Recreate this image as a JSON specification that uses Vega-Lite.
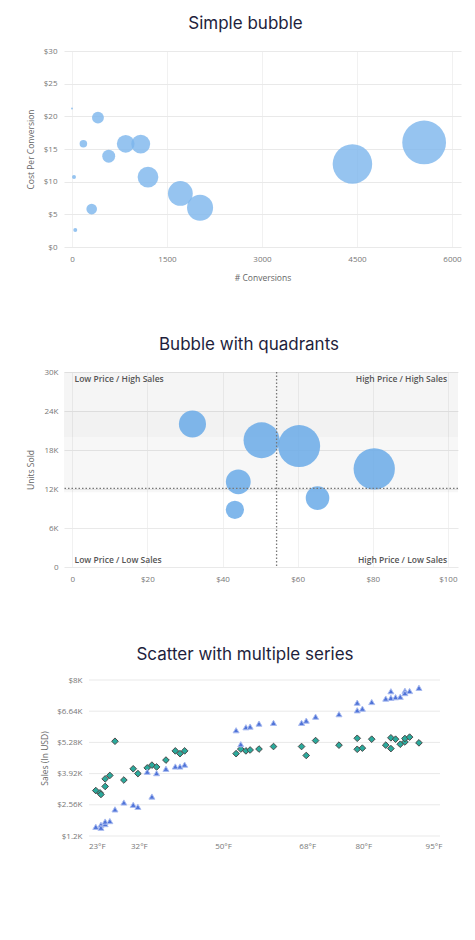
{
  "$schema": "https://vega.github.io/schema/vega-lite/v6.json",
  "background": "white",
  "padding": {"top": 15, "left": 26, "right": 5, "bottom": 5},
  "config": {
    "view": {"stroke": null},
    "font": "Open Sans",
    "axis": {"domain": false, "ticks": false, "gridColor": "#e9e9e9", "gridWidth": 1, "labelColor": "#777", "labelFontSize": 8, "titleColor": "#666", "titleFontSize": 8.5, "titleFontWeight": "normal", "labelFont": "Open Sans", "titleFont": "Open Sans", "labelOverlap": false},
    "title": {"font": "Inter", "fontSize": 17, "fontWeight": 400, "color": "#1e1e3c", "offset": 14}
  },
  "spacing": 54,
  "vconcat": [
    {
      "width": 397, "height": 196,
      "title": {"text": "Simple bubble", "dx": -17},
      "data": {"values": [
        {"conversions": 5560, "cpc": 16.0, "z": 610},
        {"conversions": 4428, "cpc": 12.7, "z": 497},
        {"conversions": 2022, "cpc": 6.0, "z": 216},
        {"conversions": 1711, "cpc": 8.2, "z": 196},
        {"conversions": 1200, "cpc": 10.7, "z": 137},
        {"conversions": 1085, "cpc": 15.75, "z": 114},
        {"conversions": 848, "cpc": 15.8, "z": 100},
        {"conversions": 580, "cpc": 13.9, "z": 53},
        {"conversions": 410, "cpc": 19.8, "z": 45},
        {"conversions": 311, "cpc": 5.8, "z": 36},
        {"conversions": 180, "cpc": 15.8, "z": 18},
        {"conversions": 32, "cpc": 10.7, "z": 5},
        {"conversions": 52, "cpc": 2.6, "z": 5},
        {"conversions": 0, "cpc": 21.2, "z": 1}
      ]},
      "mark": {"type": "circle", "color": "#7cb5ec", "opacity": 0.8},
      "encoding": {
        "x": {"field": "conversions", "type": "quantitative", "title": "# Conversions",
              "scale": {"domain": [-126, 6142], "nice": false, "zero": false},
              "axis": {"values": [0, 1500, 3000, 4500, 6000], "format": "d", "gridColor": "#f1f1f1", "labelPadding": 8, "titlePadding": 10}},
        "y": {"field": "cpc", "type": "quantitative", "title": "Cost Per Conversion",
              "scale": {"domain": [0, 30], "nice": false},
              "axis": {"values": [0, 5, 10, 15, 20, 25, 30], "labelExpr": "'$' + datum.value", "labelPadding": 7, "titlePadding": 8}},
        "size": {"field": "z", "type": "quantitative", "scale": {"domain": [0, 620], "range": [0, 1948]}, "legend": null}
      }
    },
    {
      "spacing": 63,
      "vconcat": [
        {
          "width": 394, "height": 195,
          "title": {"text": "Bubble with quadrants", "dx": -12},
          "layer": [
            {
              "data": {"values": [
                {"units": 11500, "units_hi": 20000, "band": "light"},
                {"units": 20000, "units_hi": 24000, "band": "dark"},
                {"units": 24000, "units_hi": 30000, "band": "mid"}
              ]},
              "mark": {"type": "rect", "color": "#000"},
              "encoding": {
                "y": {"field": "units", "type": "quantitative", "title": "Units Sold",
                      "scale": {"domain": [0, 30000], "nice": false},
                      "axis": {"values": [0, 6000, 12000, 18000, 24000, 30000], "labelExpr": "datum.value == 0 ? '0' : datum.value / 1000 + 'K'", "labelPadding": 6, "titlePadding": 8}},
                "y2": {"field": "units_hi"},
                "opacity": {"field": "band", "type": "nominal", "scale": {"domain": ["light", "mid", "dark"], "range": [0.03, 0.05, 0.07]}, "legend": null}
              }
            },
            {
              "data": {"values": [
                {"price": 60.4, "units": 18600, "z": 562},
                {"price": 80.4, "units": 15100, "z": 543},
                {"price": 50.4, "units": 19500, "z": 412},
                {"price": 32, "units": 22000, "z": 234},
                {"price": 44.2, "units": 13100, "z": 196},
                {"price": 65.3, "units": 10600, "z": 177},
                {"price": 43.3, "units": 8800, "z": 106}
              ]},
              "mark": {"type": "circle", "color": "#6aaae8", "opacity": 0.85},
              "encoding": {
                "x": {"field": "price", "type": "quantitative", "title": null,
                      "scale": {"domain": [-2.2, 102.7], "nice": false, "zero": false},
                      "axis": {"values": [0, 20, 40, 60, 80, 100], "labelExpr": "datum.value == 0 ? '0' : '$' + datum.value", "gridColor": "#f1f1f1", "labelPadding": 8}},
                "y": {"field": "units", "type": "quantitative", "title": "Units Sold",
                      "axis": {"values": [0, 6000, 12000, 18000, 24000, 30000], "labelExpr": "datum.value == 0 ? '0' : datum.value / 1000 + 'K'", "labelPadding": 6, "titlePadding": 8}},
                "size": {"field": "z", "type": "quantitative", "scale": {"domain": [0, 620], "range": [0, 1948]}, "legend": null}
              }
            },
            {
              "data": {"values": [{"price": 54.4}]},
              "mark": {"type": "rule", "color": "#777", "strokeDash": [1.5, 2], "strokeWidth": 1.3},
              "encoding": {"x": {"field": "price", "type": "quantitative", "title": null,
                      "axis": {"values": [0, 20, 40, 60, 80, 100], "labelExpr": "datum.value == 0 ? '0' : '$' + datum.value", "gridColor": "#f1f1f1", "labelPadding": 8}}}
            },
            {
              "data": {"values": [{"units": 12100}]},
              "mark": {"type": "rule", "color": "#777", "strokeDash": [1.5, 2], "strokeWidth": 1.3},
              "encoding": {"y": {"field": "units", "type": "quantitative", "title": "Units Sold",
                      "axis": {"values": [0, 6000, 12000, 18000, 24000, 30000], "labelExpr": "datum.value == 0 ? '0' : datum.value / 1000 + 'K'", "labelPadding": 6, "titlePadding": 8}}}
            },
            {
              "data": {"values": [
                {"price": 0.6, "units": 28900, "label": "Low Price / High Sales"},
                {"price": 0.6, "units": 1100, "label": "Low Price / Low Sales"}
              ]},
              "mark": {"type": "text", "align": "left", "baseline": "middle", "fontSize": 8.5, "fontWeight": 600, "color": "#555", "font": "Open Sans"},
              "encoding": {
                "x": {"field": "price", "type": "quantitative", "title": null,
                      "axis": {"values": [0, 20, 40, 60, 80, 100], "labelExpr": "datum.value == 0 ? '0' : '$' + datum.value", "gridColor": "#f1f1f1", "labelPadding": 8}},
                "y": {"field": "units", "type": "quantitative", "title": "Units Sold",
                      "axis": {"values": [0, 6000, 12000, 18000, 24000, 30000], "labelExpr": "datum.value == 0 ? '0' : datum.value / 1000 + 'K'", "labelPadding": 6, "titlePadding": 8}},
                "text": {"field": "label"}
              }
            },
            {
              "data": {"values": [
                {"price": 99.8, "units": 28900, "label": "High Price / High Sales"},
                {"price": 99.8, "units": 1100, "label": "High Price / Low Sales"}
              ]},
              "mark": {"type": "text", "align": "right", "baseline": "middle", "fontSize": 8.5, "fontWeight": 600, "color": "#555", "font": "Open Sans"},
              "encoding": {
                "x": {"field": "price", "type": "quantitative", "title": null,
                      "axis": {"values": [0, 20, 40, 60, 80, 100], "labelExpr": "datum.value == 0 ? '0' : '$' + datum.value", "gridColor": "#f1f1f1", "labelPadding": 8}},
                "y": {"field": "units", "type": "quantitative", "title": "Units Sold",
                      "axis": {"values": [0, 6000, 12000, 18000, 24000, 30000], "labelExpr": "datum.value == 0 ? '0' : datum.value / 1000 + 'K'", "labelPadding": 6, "titlePadding": 8}},
                "text": {"field": "label"}
              }
            }
          ]
        },
        {
          "width": 376, "height": 156,
          "title": {"text": "Scatter with multiple series", "offset": 12, "dx": -7},
          "layer": [
            {
              "data": {"values": [
                {"sales": 1200}, {"sales": 2560}, {"sales": 3920}, {"sales": 5280}, {"sales": 6640}, {"sales": 8000}
              ]},
              "mark": {"type": "rule", "color": "#e9e9e9", "strokeWidth": 1},
              "encoding": {
                "x": {"datum": 21.35},
                "x2": {"datum": 96.4},
                "y": {"field": "sales", "type": "quantitative", "title": "Sales (In USD)",
                      "axis": {"values": [1200, 2560, 3920, 5280, 6640, 8000], "labelExpr": "'$' + datum.value / 1000 + 'K'", "labelPadding": 7, "titlePadding": 7, "grid": false, "offset": -25}}
              }
            },
            {
              "data": {"values": [
                {"temp": 22.8, "sales": 3180, "series": "Series 2"},
                {"temp": 23.7, "sales": 3080, "series": "Series 2"},
                {"temp": 23.9, "sales": 3010, "series": "Series 2"},
                {"temp": 24.8, "sales": 3360, "series": "Series 2"},
                {"temp": 24.8, "sales": 3690, "series": "Series 2"},
                {"temp": 25.8, "sales": 3840, "series": "Series 2"},
                {"temp": 26.9, "sales": 5330, "series": "Series 2"},
                {"temp": 28.8, "sales": 3640, "series": "Series 2"},
                {"temp": 30.8, "sales": 4130, "series": "Series 2"},
                {"temp": 31.8, "sales": 3920, "series": "Series 2"},
                {"temp": 33.8, "sales": 4170, "series": "Series 2"},
                {"temp": 34.8, "sales": 4290, "series": "Series 2"},
                {"temp": 35.8, "sales": 4210, "series": "Series 2"},
                {"temp": 37.8, "sales": 4510, "series": "Series 2"},
                {"temp": 39.8, "sales": 4910, "series": "Series 2"},
                {"temp": 40.8, "sales": 4790, "series": "Series 2"},
                {"temp": 41.8, "sales": 4910, "series": "Series 2"},
                {"temp": 52.8, "sales": 4790, "series": "Series 2"},
                {"temp": 53.8, "sales": 4990, "series": "Series 2"},
                {"temp": 54.9, "sales": 4910, "series": "Series 2"},
                {"temp": 55.8, "sales": 4950, "series": "Series 2"},
                {"temp": 57.7, "sales": 4990, "series": "Series 2"},
                {"temp": 60.8, "sales": 5100, "series": "Series 2"},
                {"temp": 66.8, "sales": 5100, "series": "Series 2"},
                {"temp": 67.8, "sales": 4710, "series": "Series 2"},
                {"temp": 69.8, "sales": 5360, "series": "Series 2"},
                {"temp": 74.8, "sales": 5160, "series": "Series 2"},
                {"temp": 78.7, "sales": 5460, "series": "Series 2"},
                {"temp": 78.7, "sales": 4980, "series": "Series 2"},
                {"temp": 79.8, "sales": 5030, "series": "Series 2"},
                {"temp": 81.8, "sales": 5420, "series": "Series 2"},
                {"temp": 84.8, "sales": 5160, "series": "Series 2"},
                {"temp": 85.9, "sales": 5480, "series": "Series 2"},
                {"temp": 85.9, "sales": 5010, "series": "Series 2"},
                {"temp": 86.9, "sales": 5420, "series": "Series 2"},
                {"temp": 87.9, "sales": 5200, "series": "Series 2"},
                {"temp": 88.9, "sales": 5300, "series": "Series 2"},
                {"temp": 88.9, "sales": 5450, "series": "Series 2"},
                {"temp": 89.9, "sales": 5510, "series": "Series 2"},
                {"temp": 91.9, "sales": 5260, "series": "Series 2"},
                {"temp": 22.8, "sales": 1600, "series": "Series 1"},
                {"temp": 23.9, "sales": 1690, "series": "Series 1"},
                {"temp": 23.9, "sales": 1560, "series": "Series 1"},
                {"temp": 24.8, "sales": 1720, "series": "Series 1"},
                {"temp": 24.8, "sales": 1830, "series": "Series 1"},
                {"temp": 25.8, "sales": 1850, "series": "Series 1"},
                {"temp": 26.9, "sales": 2360, "series": "Series 1"},
                {"temp": 28.8, "sales": 2660, "series": "Series 1"},
                {"temp": 30.8, "sales": 2560, "series": "Series 1"},
                {"temp": 31.8, "sales": 2470, "series": "Series 1"},
                {"temp": 33.8, "sales": 4000, "series": "Series 1"},
                {"temp": 34.8, "sales": 2920, "series": "Series 1"},
                {"temp": 35.8, "sales": 3940, "series": "Series 1"},
                {"temp": 37.8, "sales": 4130, "series": "Series 1"},
                {"temp": 39.8, "sales": 4230, "series": "Series 1"},
                {"temp": 40.8, "sales": 4230, "series": "Series 1"},
                {"temp": 41.8, "sales": 4310, "series": "Series 1"},
                {"temp": 52.8, "sales": 5810, "series": "Series 1"},
                {"temp": 53.8, "sales": 5200, "series": "Series 1"},
                {"temp": 54.9, "sales": 5940, "series": "Series 1"},
                {"temp": 55.8, "sales": 5970, "series": "Series 1"},
                {"temp": 57.7, "sales": 6100, "series": "Series 1"},
                {"temp": 60.8, "sales": 6130, "series": "Series 1"},
                {"temp": 66.8, "sales": 6130, "series": "Series 1"},
                {"temp": 67.8, "sales": 6230, "series": "Series 1"},
                {"temp": 69.8, "sales": 6400, "series": "Series 1"},
                {"temp": 74.8, "sales": 6510, "series": "Series 1"},
                {"temp": 78.7, "sales": 7010, "series": "Series 1"},
                {"temp": 78.7, "sales": 6680, "series": "Series 1"},
                {"temp": 79.8, "sales": 6750, "series": "Series 1"},
                {"temp": 81.8, "sales": 7040, "series": "Series 1"},
                {"temp": 84.8, "sales": 7190, "series": "Series 1"},
                {"temp": 85.9, "sales": 7510, "series": "Series 1"},
                {"temp": 85.9, "sales": 7220, "series": "Series 1"},
                {"temp": 86.9, "sales": 7250, "series": "Series 1"},
                {"temp": 87.9, "sales": 7270, "series": "Series 1"},
                {"temp": 88.9, "sales": 7530, "series": "Series 1"},
                {"temp": 88.9, "sales": 7430, "series": "Series 1"},
                {"temp": 89.9, "sales": 7520, "series": "Series 1"},
                {"temp": 91.9, "sales": 7660, "series": "Series 1"}
              ]},
              "mark": {"type": "point", "filled": true, "opacity": 1, "strokeWidth": 1},
              "encoding": {
                "x": {"field": "temp", "type": "quantitative", "title": null,
                      "scale": {"domain": [16.0, 96.4], "nice": false, "zero": false},
                      "axis": {"values": [23, 32, 50, 68, 80, 95], "labelExpr": "datum.value + '°F'", "grid": false, "labelPadding": 6}},
                "y": {"field": "sales", "type": "quantitative", "title": "Sales (In USD)",
                      "scale": {"domain": [1200, 8000], "nice": false, "zero": false},
                      "axis": {"values": [1200, 2560, 3920, 5280, 6640, 8000], "labelExpr": "'$' + datum.value / 1000 + 'K'", "labelPadding": 7, "titlePadding": 7, "grid": false, "offset": -25}},
                "shape": {"field": "series", "type": "nominal", "scale": {"domain": ["Series 1", "Series 2"], "range": ["triangle-up", "diamond"]}, "legend": null},
                "fill": {"field": "series", "type": "nominal", "scale": {"domain": ["Series 1", "Series 2"], "range": ["#4f73d8", "#2aaa9c"]}, "legend": null},
                "stroke": {"field": "series", "type": "nominal", "scale": {"domain": ["Series 1", "Series 2"], "range": ["#aabcf0", "#4a4a4a"]}, "legend": null},
                "size": {"field": "series", "type": "nominal", "scale": {"domain": ["Series 1", "Series 2"], "range": [36, 44]}, "legend": null}
              }
            }
          ]
        }
      ]
    }
  ]
}
